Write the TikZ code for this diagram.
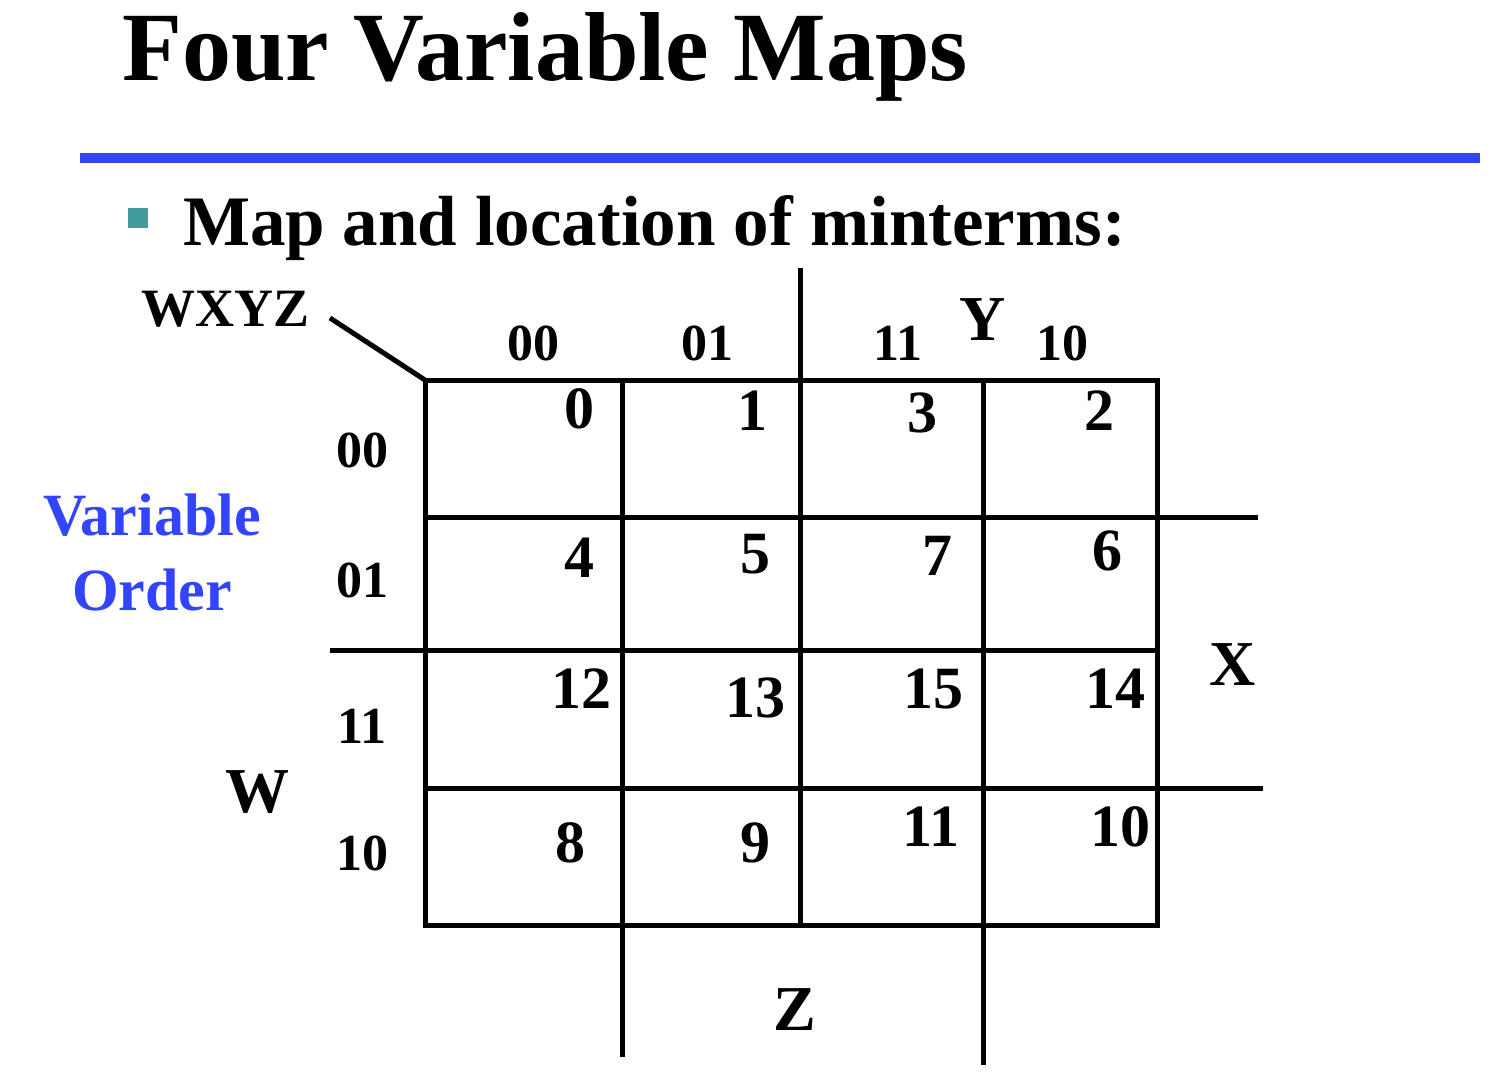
\documentclass[tikz,border=0pt]{standalone}
\usepackage{fontspec}
\setmainfont{Liberation Serif}
\definecolor{mblue}{RGB}{51,68,255}
\definecolor{mteal}{RGB}{64,155,155}
\begin{document}
\begin{tikzpicture}[x=1pt,y=-1pt,
  gridline/.style={line width=5pt},
  lbl/.style={inner sep=0pt, font=\bfseries\fontsize{52}{52}\selectfont, anchor=base},
  num/.style={inner sep=0pt, font=\bfseries\fontsize{60}{60}\selectfont, anchor=base},
  axislbl/.style={inner sep=0pt, font=\bfseries\fontsize{64}{64}\selectfont, anchor=base}]
\useasboundingbox (0,0) rectangle (1510,1072);
% title
\node[inner sep=0pt, anchor=base west, font=\bfseries\fontsize{98}{98}\selectfont] (title) at (122,80) {Four Variable Maps};
\draw[mblue, line width=10pt] (80,158) -- (1480,158);
\node[fill=mteal, minimum size=20pt, inner sep=0pt] (bullet) at (138,218) {};
\node[inner sep=0pt, anchor=base west, font=\bfseries\fontsize{71}{71}\selectfont] (sub) at (183,245) {Map and location of minterms:};
% grid
\draw[gridline] (425,380) rectangle (1157,925);
\draw[gridline] (622,380) -- (622,1057);
\draw[gridline] (800,268) -- (800,925);
\draw[gridline] (983,380) -- (983,1065);
\draw[gridline] (425,517) -- (1258,517);
\draw[gridline] (330,650) -- (1157,650);
\draw[gridline] (425,788) -- (1263,788);
\draw[gridline] (330,318) -- (425,380);
% corner label
\node[inner sep=0pt, anchor=base east, font=\bfseries\fontsize{54}{54}\selectfont] (wxyz) at (310,326) {WXYZ};
% column labels
\node[lbl] (c00) at (533,360) {00};
\node[lbl] (c01) at (707,360) {01};
\node[lbl] (c11) at (898,360) {11};
\node[lbl] (c10) at (1062,360) {10};
% row labels
\node[lbl] (r00) at (362,467) {00};
\node[lbl] (r01) at (362,597) {01};
\node[lbl] (r11) at (362,743) {11};
\node[lbl] (r10) at (362,870) {10};
% cell numbers
\node[num] (m0) at (579,428) {0};
\node[num] (m1) at (752,430) {1};
\node[num] (m3) at (922,432) {3};
\node[num] (m2) at (1099,430) {2};
\node[num] (m4) at (579,577) {4};
\node[num] (m5) at (755,573) {5};
\node[num] (m7) at (937,575) {7};
\node[num] (m6) at (1107,570) {6};
\node[num] (m12) at (581,708) {12};
\node[num] (m13) at (755,717) {13};
\node[num] (m15) at (933,708) {15};
\node[num] (m14) at (1115,708) {14};
\node[num] (m8) at (570,862) {8};
\node[num] (m9) at (755,862) {9};
\node[num] (m11) at (931,846) {11};
\node[num] (m10) at (1120,846) {10};
% variable letters
\node[axislbl] (Y) at (983,340) {Y};
\node[axislbl] (X) at (1233,685) {X};
\node[axislbl] (W) at (257,812) {W};
\node[axislbl] (Z) at (795,1030) {Z};
% variable order
\node[inner sep=0pt, anchor=base, text=mblue, font=\bfseries\fontsize{60}{60}\selectfont] (vo1) at (152,535) {Variable};
\node[inner sep=0pt, anchor=base, text=mblue, font=\bfseries\fontsize{60}{60}\selectfont] (vo2) at (152,610) {Order};
\end{tikzpicture}
\end{document}
